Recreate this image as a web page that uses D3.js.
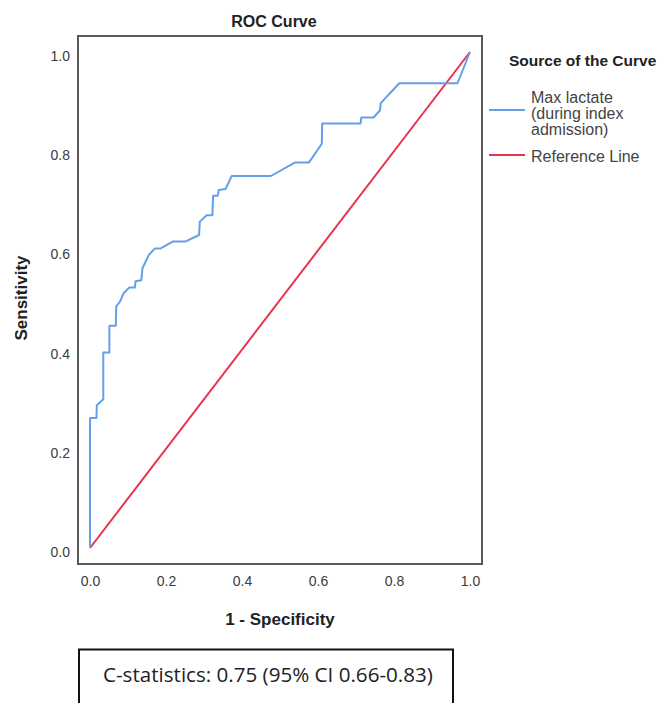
<!DOCTYPE html>
<html>
<head>
<meta charset="utf-8">
<script src="https://cdn.jsdelivr.net/npm/d3@7"></script>
<style>
  body { margin: 0; background: #fff; }
  svg { display: block; }
  text { font-family: "Liberation Sans", Arial, sans-serif; }
</style>
</head>
<body>
<svg id="chart" width="665" height="703"></svg>
<script>
// ROC points (1 - specificity, sensitivity)
const fpr = [0, 0, 0.017, 0.018, 0.035, 0.035, 0.051, 0.051, 0.068, 0.069, 0.079, 0.088,
    0.103, 0.118, 0.120, 0.135, 0.138, 0.155, 0.171, 0.186, 0.219, 0.252, 0.287, 0.289,
    0.307, 0.322, 0.324, 0.336, 0.339, 0.357, 0.373, 0.476, 0.539, 0.576, 0.610, 0.611,
    0.712, 0.714, 0.746, 0.763, 0.765, 0.814, 0.967, 1];
const tpr = [0, 0.262, 0.262, 0.288, 0.300, 0.394, 0.394, 0.448, 0.448, 0.487, 0.497, 0.513,
    0.525, 0.525, 0.538, 0.540, 0.564, 0.591, 0.604, 0.604, 0.618, 0.618, 0.631, 0.658,
    0.671, 0.671, 0.710, 0.710, 0.722, 0.724, 0.750, 0.750, 0.777, 0.777, 0.815, 0.856,
    0.856, 0.868, 0.868, 0.882, 0.897, 0.937, 0.937, 1];
const refX = [0, 1];
const refY = [0, 1];
const ticks = [0, 0.2, 0.4, 0.6, 0.8, 1.0];
const legendLabels = [["Max lactate", "(during index", "admission)"], ["Reference Line"]];
const colors = ["#649fea", "#e8344f"];
const cstat = "C-statistics: 0.75 (95% CI 0.66-0.83)";

var svg = d3.select("#chart");

var frame = {left: 78, top: 36, right: 482, bottom: 564};

var x = d3.scaleLinear().domain([0, 1]).range([90, 470]);
var y = d3.scaleLinear().domain([0, 1]).range([548, 52]);

// plot frame
svg.append("rect")
    .attr("x", frame.left)
    .attr("y", frame.top)
    .attr("width", frame.right - frame.left)
    .attr("height", frame.bottom - frame.top)
    .attr("fill", "none")
    .attr("stroke", "#5a5a5a")
    .attr("stroke-width", 2);

// axes (labels only, no tick marks)
var xAxis = svg.append("g")
    .attr("transform", "translate(0," + frame.bottom + ")")
    .call(d3.axisBottom(x).tickValues(ticks).tickSize(0).tickPadding(12).tickFormat(d3.format(".1f")));
var yAxis = svg.append("g")
    .attr("transform", "translate(" + frame.left + ",0)")
    .call(d3.axisLeft(y).tickValues(ticks).tickSize(0).tickPadding(8).tickFormat(d3.format(".1f")));
[xAxis, yAxis].forEach(function(a) {
    a.select(".domain").remove();
    a.selectAll("text")
        .attr("font-size", 14)
        .attr("fill", "#3c3c3c");
});
yAxis.selectAll("text").attr("dy", "0.6em");

// reference line
var line = d3.line()
    .x(function(d) { return x(d[0]); })
    .y(function(d) { return y(d[1]); });

svg.append("path")
    .datum(d3.zip(refX, refY))
    .attr("d", line)
    .attr("fill", "none")
    .attr("stroke", colors[1])
    .attr("stroke-width", 2);

svg.append("path")
    .datum(d3.zip(fpr, tpr))
    .attr("d", line)
    .attr("fill", "none")
    .attr("stroke", colors[0])
    .attr("stroke-width", 2)
    .attr("stroke-linejoin", "round");

// titles
svg.append("text")
    .attr("x", 274).attr("y", 26.5)
    .attr("text-anchor", "middle")
    .attr("font-weight", "bold")
    .attr("font-size", 16)
    .attr("fill", "#222")
    .text("ROC Curve");

svg.append("text")
    .attr("x", 280).attr("y", 625)
    .attr("text-anchor", "middle")
    .attr("font-weight", "bold")
    .attr("font-size", 17)
    .attr("fill", "#222")
    .text("1 - Specificity");

svg.append("text")
    .attr("transform", "translate(27,298) rotate(-90)")
    .attr("text-anchor", "middle")
    .attr("font-weight", "bold")
    .attr("font-size", 17)
    .attr("fill", "#222")
    .text("Sensitivity");

// legend
svg.append("text")
    .attr("x", 509).attr("y", 66)
    .attr("font-weight", "bold")
    .attr("font-size", 15.5)
    .attr("fill", "#222")
    .text("Source of the Curve");

var legendY = [110, 155];
var lineStart = [102.5, 161.5];
legendLabels.forEach(function(lines, i) {
    svg.append("line")
        .attr("x1", 489).attr("x2", 525)
        .attr("y1", legendY[i]).attr("y2", legendY[i])
        .attr("stroke", colors[i])
        .attr("stroke-width", 2);
    var t = svg.append("text")
        .attr("x", 531).attr("y", lineStart[i])
        .attr("font-size", 16)
        .attr("fill", "#444");
    lines.forEach(function(s, j) {
        t.append("tspan")
            .attr("x", 531)
            .attr("dy", j === 0 ? 0 : 16.3)
            .text(s);
    });
});

// C-statistics box
svg.append("rect")
    .attr("x", 79).attr("y", 649.5)
    .attr("width", 374).attr("height", 80)
    .attr("fill", "none")
    .attr("stroke", "#111")
    .attr("stroke-width", 2);

var ct = svg.append("text")
    .attr("x", 103).attr("y", 682)
    .style("font-family", "'Open Sans', 'Noto Sans', sans-serif")
    .attr("font-size", 17)
    .attr("fill", "#222")
    .text(cstat);
// fit width to the picture
var w = ct.node().getComputedTextLength();
ct.attr("font-size", 17 * 330 / w);
</script>
</body>
</html>
